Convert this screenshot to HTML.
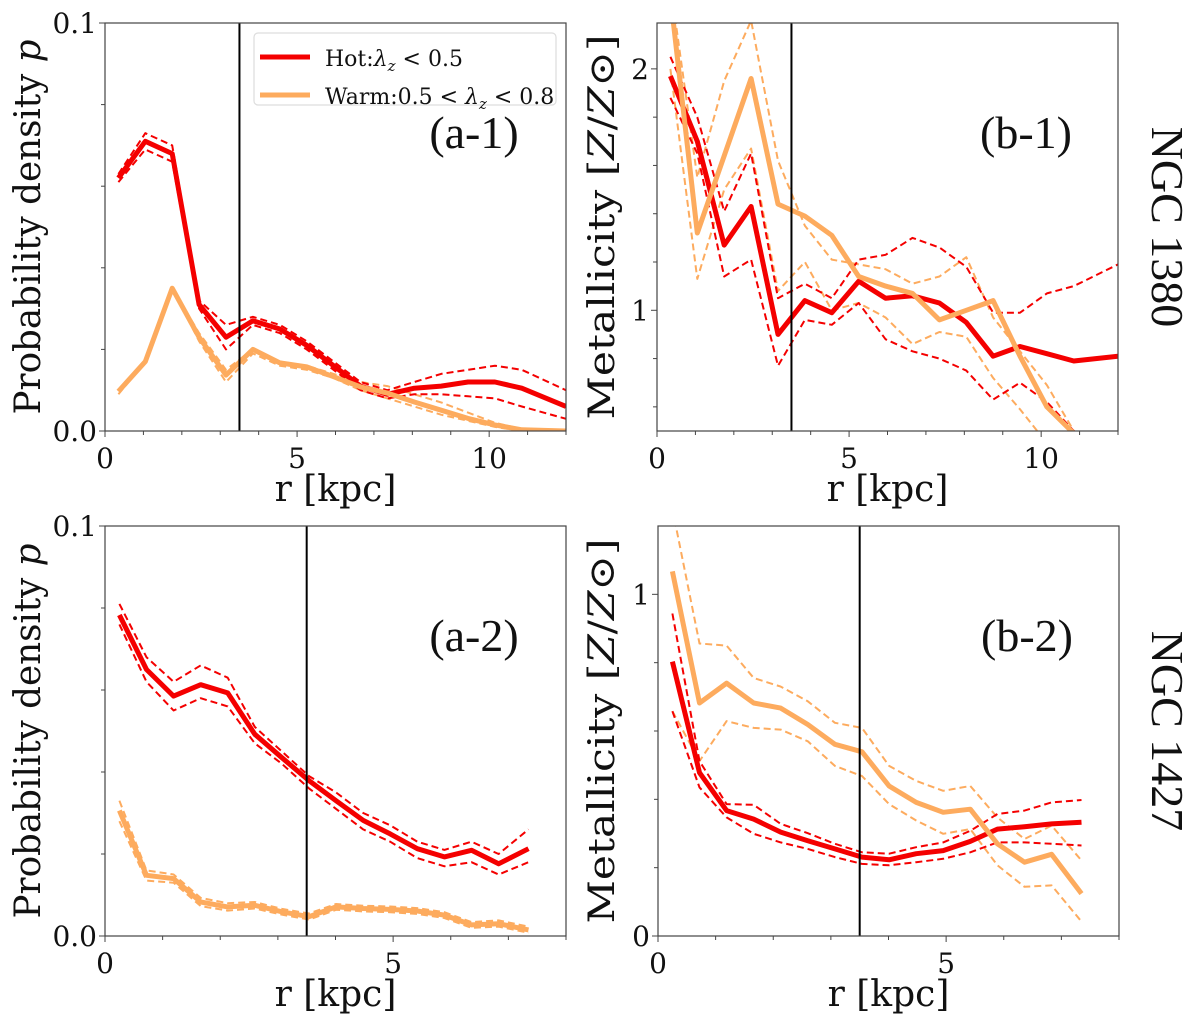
<!DOCTYPE html>
<html><head><meta charset="utf-8"><style>
html,body{margin:0;padding:0;background:#fff;}
svg{display:block;font-family:"DejaVu Serif","Liberation Serif",serif;}
</style></head><body>
<svg id="fig" width="1200" height="1024" viewBox="0 0 1200 1024" xmlns="http://www.w3.org/2000/svg"></svg>
<script>
// ---- data ----
const rTop = [0.35,1.05,1.75,2.45,3.15,3.85,4.55,5.25,5.95,6.65,7.35,8.05,8.75,9.45,10.15,10.85,12.0];
const a1Hot = [0.062,0.071,0.068,0.031,0.023,0.027,0.025,0.021,0.016,0.011,0.009,0.0105,0.011,0.012,0.012,0.0105,0.006];
const a1HotUp = [0.063,0.073,0.070,0.032,0.026,0.028,0.026,0.022,0.017,0.012,0.010,0.012,0.014,0.015,0.016,0.015,0.010];
const a1HotLo = [0.061,0.069,0.066,0.030,0.020,0.026,0.024,0.020,0.015,0.010,0.008,0.009,0.009,0.0085,0.008,0.006,0.003];
const a1Warm = [0.0097,0.017,0.035,0.023,0.0137,0.020,0.0167,0.0157,0.0133,0.0108,0.0093,0.0071,0.0051,0.0031,0.0015,0.0003,0];
const a1WarmUp = [0.010,0.017,0.035,0.024,0.015,0.020,0.017,0.016,0.014,0.012,0.011,0.009,0.007,0.0045,0.002,0.0005,0];
const a1WarmLo = [0.009,0.017,0.035,0.022,0.012,0.019,0.016,0.015,0.013,0.010,0.008,0.006,0.004,0.0025,0.001,0,0];

const b1Hot = [1.97,1.70,1.27,1.43,0.90,1.04,0.99,1.12,1.05,1.06,1.03,0.95,0.81,0.85,0.82,0.79,0.81];
const b1HotUp = [2.05,1.80,1.41,1.65,1.05,1.11,1.05,1.21,1.23,1.30,1.26,1.18,0.99,0.99,1.07,1.10,1.19];
const b1HotLo = [1.88,1.65,1.14,1.21,0.77,0.96,0.94,1.03,0.88,0.83,0.80,0.75,0.63,0.70,0.62,0.50,0.40];
const b1Warm = [2.30,1.32,1.64,1.96,1.44,1.39,1.31,1.14,1.10,1.07,0.96,1.00,1.04,0.81,0.60,0.49,0.35];
const b1WarmUp = [2.35,1.55,1.95,2.20,1.62,1.35,1.21,1.19,1.17,1.11,1.14,1.22,0.97,0.83,0.69,0.50,0.40];
const b1WarmLo = [2.00,1.13,1.50,1.67,1.08,1.20,1.00,1.03,0.97,0.86,0.91,0.89,0.72,0.59,0.45,0.38,0.30];

const rBot = [0.25,0.72,1.19,1.66,2.13,2.6,3.07,3.54,4.01,4.48,4.95,5.42,5.89,6.36,6.83,7.35];
const a2Hot = [0.0783,0.065,0.0585,0.0613,0.0593,0.0492,0.0435,0.0379,0.033,0.0282,0.0249,0.0213,0.0193,0.0209,0.0176,0.0213];
const a2HotUp = [0.081,0.068,0.062,0.066,0.063,0.051,0.045,0.039,0.035,0.030,0.027,0.023,0.021,0.023,0.020,0.026];
const a2HotLo = [0.076,0.062,0.055,0.058,0.056,0.047,0.042,0.036,0.031,0.026,0.023,0.019,0.017,0.018,0.015,0.018];
const a2Warm = [0.0306,0.0148,0.014,0.0083,0.0071,0.0075,0.0059,0.0047,0.0071,0.0067,0.0065,0.0061,0.0051,0.0027,0.003,0.0015];
const a2WarmUp = [0.033,0.016,0.015,0.0093,0.008,0.0083,0.0066,0.0055,0.0078,0.0074,0.0072,0.0068,0.0058,0.0034,0.0038,0.0023];
const a2WarmLo = [0.028,0.0135,0.013,0.0073,0.0062,0.0067,0.0052,0.004,0.0064,0.006,0.0058,0.0054,0.0044,0.002,0.0023,0.0008];

const b2Hot = [0.803,0.478,0.367,0.342,0.304,0.279,0.255,0.231,0.223,0.241,0.25,0.277,0.313,0.32,0.328,0.333];
const b2HotUp = [0.944,0.512,0.386,0.384,0.328,0.301,0.27,0.245,0.241,0.26,0.274,0.308,0.357,0.367,0.391,0.398];
const b2HotLo = [0.658,0.435,0.347,0.299,0.274,0.255,0.231,0.211,0.207,0.216,0.226,0.245,0.274,0.274,0.27,0.265];
const b2Warm = [1.067,0.682,0.74,0.682,0.667,0.619,0.561,0.539,0.439,0.391,0.362,0.371,0.27,0.216,0.239,0.124];
const b2WarmUp = [1.25,0.856,0.85,0.755,0.73,0.687,0.624,0.609,0.498,0.454,0.425,0.439,0.347,0.284,0.323,0.221];
const b2WarmLo = [0.658,0.512,0.629,0.609,0.604,0.57,0.498,0.468,0.386,0.338,0.299,0.313,0.207,0.144,0.148,0.042];

const HOT = "#f40000", WARM = "#fdab5e";
const svg = document.getElementById('fig');
const NS = "http://www.w3.org/2000/svg";
function mk(tag, attrs, parent){
  const e = document.createElementNS(NS, tag);
  for (const k in attrs) e.setAttribute(k, attrs[k]);
  (parent||svg).appendChild(e); return e;
}
let clipId = 0;
function panel(o){
  const g = mk('g', {});
  
  
  const sx = v => o.x0 + (v - o.xmin) / (o.xmax - o.xmin) * (o.x1 - o.x0);
  const sy = v => o.y1 - (v - o.ymin) / (o.ymax - o.ymin) * (o.y1 - o.y0);
  const cid = 'clip' + (clipId++);
  const cp = mk('clipPath', {id: cid}, g);
  mk('rect', {x:o.x0, y:o.y0, width:o.x1-o.x0, height:o.y1-o.y0}, cp);
  const plot = mk('g', {'clip-path':'url(#'+cid+')'}, g);
  function line(xs, ys, col, w, dash, name){
    const pts = xs.map((x,i)=>sx(x).toFixed(1)+','+sy(ys[i]).toFixed(1)).join(' ');
    const p = mk('polyline', {points:pts, fill:'none', stroke:col, 'stroke-width':w, 'stroke-linejoin':'round'}, plot);
    if (dash) p.setAttribute('stroke-dasharray', dash);
    
    
  }
  line(o.r, o.warmUp, WARM, 2, '7,4', 'warm-upper-bound');
  line(o.r, o.warmLo, WARM, 2, '7,4', 'warm-lower-bound');
  line(o.r, o.hotUp, HOT, 2, '7,4', 'hot-upper-bound');
  line(o.r, o.hotLo, HOT, 2, '7,4', 'hot-lower-bound');
  line(o.r, o.hot, HOT, 5, null, 'hot-line');
  line(o.r, o.warm, WARM, 5, null, 'warm-line');
  const vl = mk('line', {x1:sx(3.5), x2:sx(3.5), y1:o.y0, y2:o.y1, stroke:'#000', 'stroke-width':2}, g);
  
  
  const fr = mk('rect', {x:o.x0, y:o.y0, width:o.x1-o.x0, height:o.y1-o.y0, fill:'none', stroke:'#444', 'stroke-width':1.2}, g);
  
  
  for (let v = Math.ceil(o.xmin); v <= o.xmax; v++){
    const major = v % 5 === 0;
    mk('line', {x1:sx(v), x2:sx(v), y1:o.y1, y2:o.y1+(major?6:4), stroke:'#444', 'stroke-width':1}, g);
    if (major){
      const t = mk('text', {x:sx(v), y:o.y1+37, 'font-size':28, 'text-anchor':'middle', fill:'#111'}, g);
      t.textContent = v;
      
      
    }
  }
  o.minor.forEach(v=>{
    mk('line', {x1:o.x0, x2:o.x0-4, y1:sy(v), y2:sy(v), stroke:'#444', 'stroke-width':1}, g);
  });
  o.major.forEach((v,i)=>{
    mk('line', {x1:o.x0, x2:o.x0-6, y1:sy(v), y2:sy(v), stroke:'#444', 'stroke-width':1}, g);
    const t = mk('text', {x:o.x0-8, y:sy(v)+10, 'font-size':28, 'text-anchor':'end', fill:'#111'}, g);
    t.textContent = o.majorLabels[i];
    
    
  });
  const xl = mk('text', {x:(o.x0+o.x1)/2, y:o.y1+70, 'font-size':36, 'text-anchor':'middle', fill:'#111'}, g);
  xl.textContent = 'r [kpc]';
  
  
  const pl = mk('text', {x:o.x1-92, y:o.y0+125, 'font-size':46, 'text-anchor':'middle', fill:'#111', 'font-family':'"Liberation Serif",serif'}, g);
  pl.textContent = o.label;
  
  
  return {sx, sy};
}
const aMin = [0.02,0.04,0.06,0.08], bMin1 = [0.6,0.8,1.2,1.4,1.6,1.8], bMin2 = [0.2,0.4,0.6,0.8];
panel({name:'panel-a1', label:'(a-1)', x0:105,x1:566,y0:23,y1:431,xmin:0,xmax:12,ymin:0,ymax:0.1,
  r:rTop, hot:a1Hot, hotUp:a1HotUp, hotLo:a1HotLo, warm:a1Warm, warmUp:a1WarmUp, warmLo:a1WarmLo,
  major:[0,0.1], majorLabels:['0.0','0.1'], minor:aMin});
panel({name:'panel-b1', label:'(b-1)', x0:657,x1:1118,y0:23,y1:431,xmin:0,xmax:12,ymin:0.5,ymax:2.19,
  r:rTop, hot:b1Hot, hotUp:b1HotUp, hotLo:b1HotLo, warm:b1Warm, warmUp:b1WarmUp, warmLo:b1WarmLo,
  major:[1,2], majorLabels:['1','2'], minor:bMin1});
panel({name:'panel-a2', label:'(a-2)', x0:105,x1:566,y0:526,y1:936,xmin:0,xmax:8,ymin:0,ymax:0.1,
  r:rBot, hot:a2Hot, hotUp:a2HotUp, hotLo:a2HotLo, warm:a2Warm, warmUp:a2WarmUp, warmLo:a2WarmLo,
  major:[0,0.1], majorLabels:['0.0','0.1'], minor:aMin});
panel({name:'panel-b2', label:'(b-2)', x0:658,x1:1119,y0:526,y1:936,xmin:0,xmax:8,ymin:0,ymax:1.2,
  r:rBot, hot:b2Hot, hotUp:b2HotUp, hotLo:b2HotLo, warm:b2Warm, warmUp:b2WarmUp, warmLo:b2WarmLo,
  major:[0,1], majorLabels:['0','1'], minor:bMin2});
</script>
<svg style="position:absolute;left:0;top:0" width="1200" height="1024" xmlns="http://www.w3.org/2000/svg" font-family="DejaVu Serif, Liberation Serif, serif">
  <text transform="translate(40,227) rotate(-90)" text-anchor="middle" font-size="36" textLength="375" lengthAdjust="spacingAndGlyphs" fill="#111">Probability density <tspan font-style="italic">p</tspan></text>
  <text transform="translate(40,731) rotate(-90)" text-anchor="middle" font-size="36" textLength="375" lengthAdjust="spacingAndGlyphs" fill="#111">Probability density <tspan font-style="italic">p</tspan></text>
  <text transform="translate(614,227) rotate(-90)" text-anchor="middle" font-size="36" textLength="385" lengthAdjust="spacingAndGlyphs" fill="#111">Metallicity [<tspan font-style="italic">Z</tspan>/<tspan font-style="italic">Z</tspan>⊙]</text>
  <text transform="translate(614,731) rotate(-90)" text-anchor="middle" font-size="36" textLength="385" lengthAdjust="spacingAndGlyphs" fill="#111">Metallicity [<tspan font-style="italic">Z</tspan>/<tspan font-style="italic">Z</tspan>⊙]</text>
  <text transform="translate(1152,227) rotate(90)" text-anchor="middle" font-size="46" font-family="Liberation Serif, serif" fill="#111">NGC 1380</text>
  <text transform="translate(1152,731) rotate(90)" text-anchor="middle" font-size="46" font-family="Liberation Serif, serif" fill="#111">NGC 1427</text>
  <g>
    <rect x="254" y="33" width="302" height="72" rx="4" fill="#fff" fill-opacity="0.85" stroke="#ddd" stroke-width="1.2"/>
    <line x1="260" y1="57" x2="310" y2="57" stroke="#f40000" stroke-width="5"/>
    <text x="325" y="66" font-size="22" fill="#111">Hot:<tspan font-style="italic">λ</tspan><tspan font-style="italic" font-size="15" dy="5">z</tspan><tspan dy="-5"> &lt; 0.5</tspan></text>
    <line x1="260" y1="95" x2="310" y2="95" stroke="#fdab5e" stroke-width="5"/>
    <text x="325" y="104" font-size="22" fill="#111">Warm:0.5 &lt; <tspan font-style="italic">λ</tspan><tspan font-style="italic" font-size="15" dy="5">z</tspan><tspan dy="-5"> &lt; 0.8</tspan></text>
  </g>
</svg>
</body></html>
